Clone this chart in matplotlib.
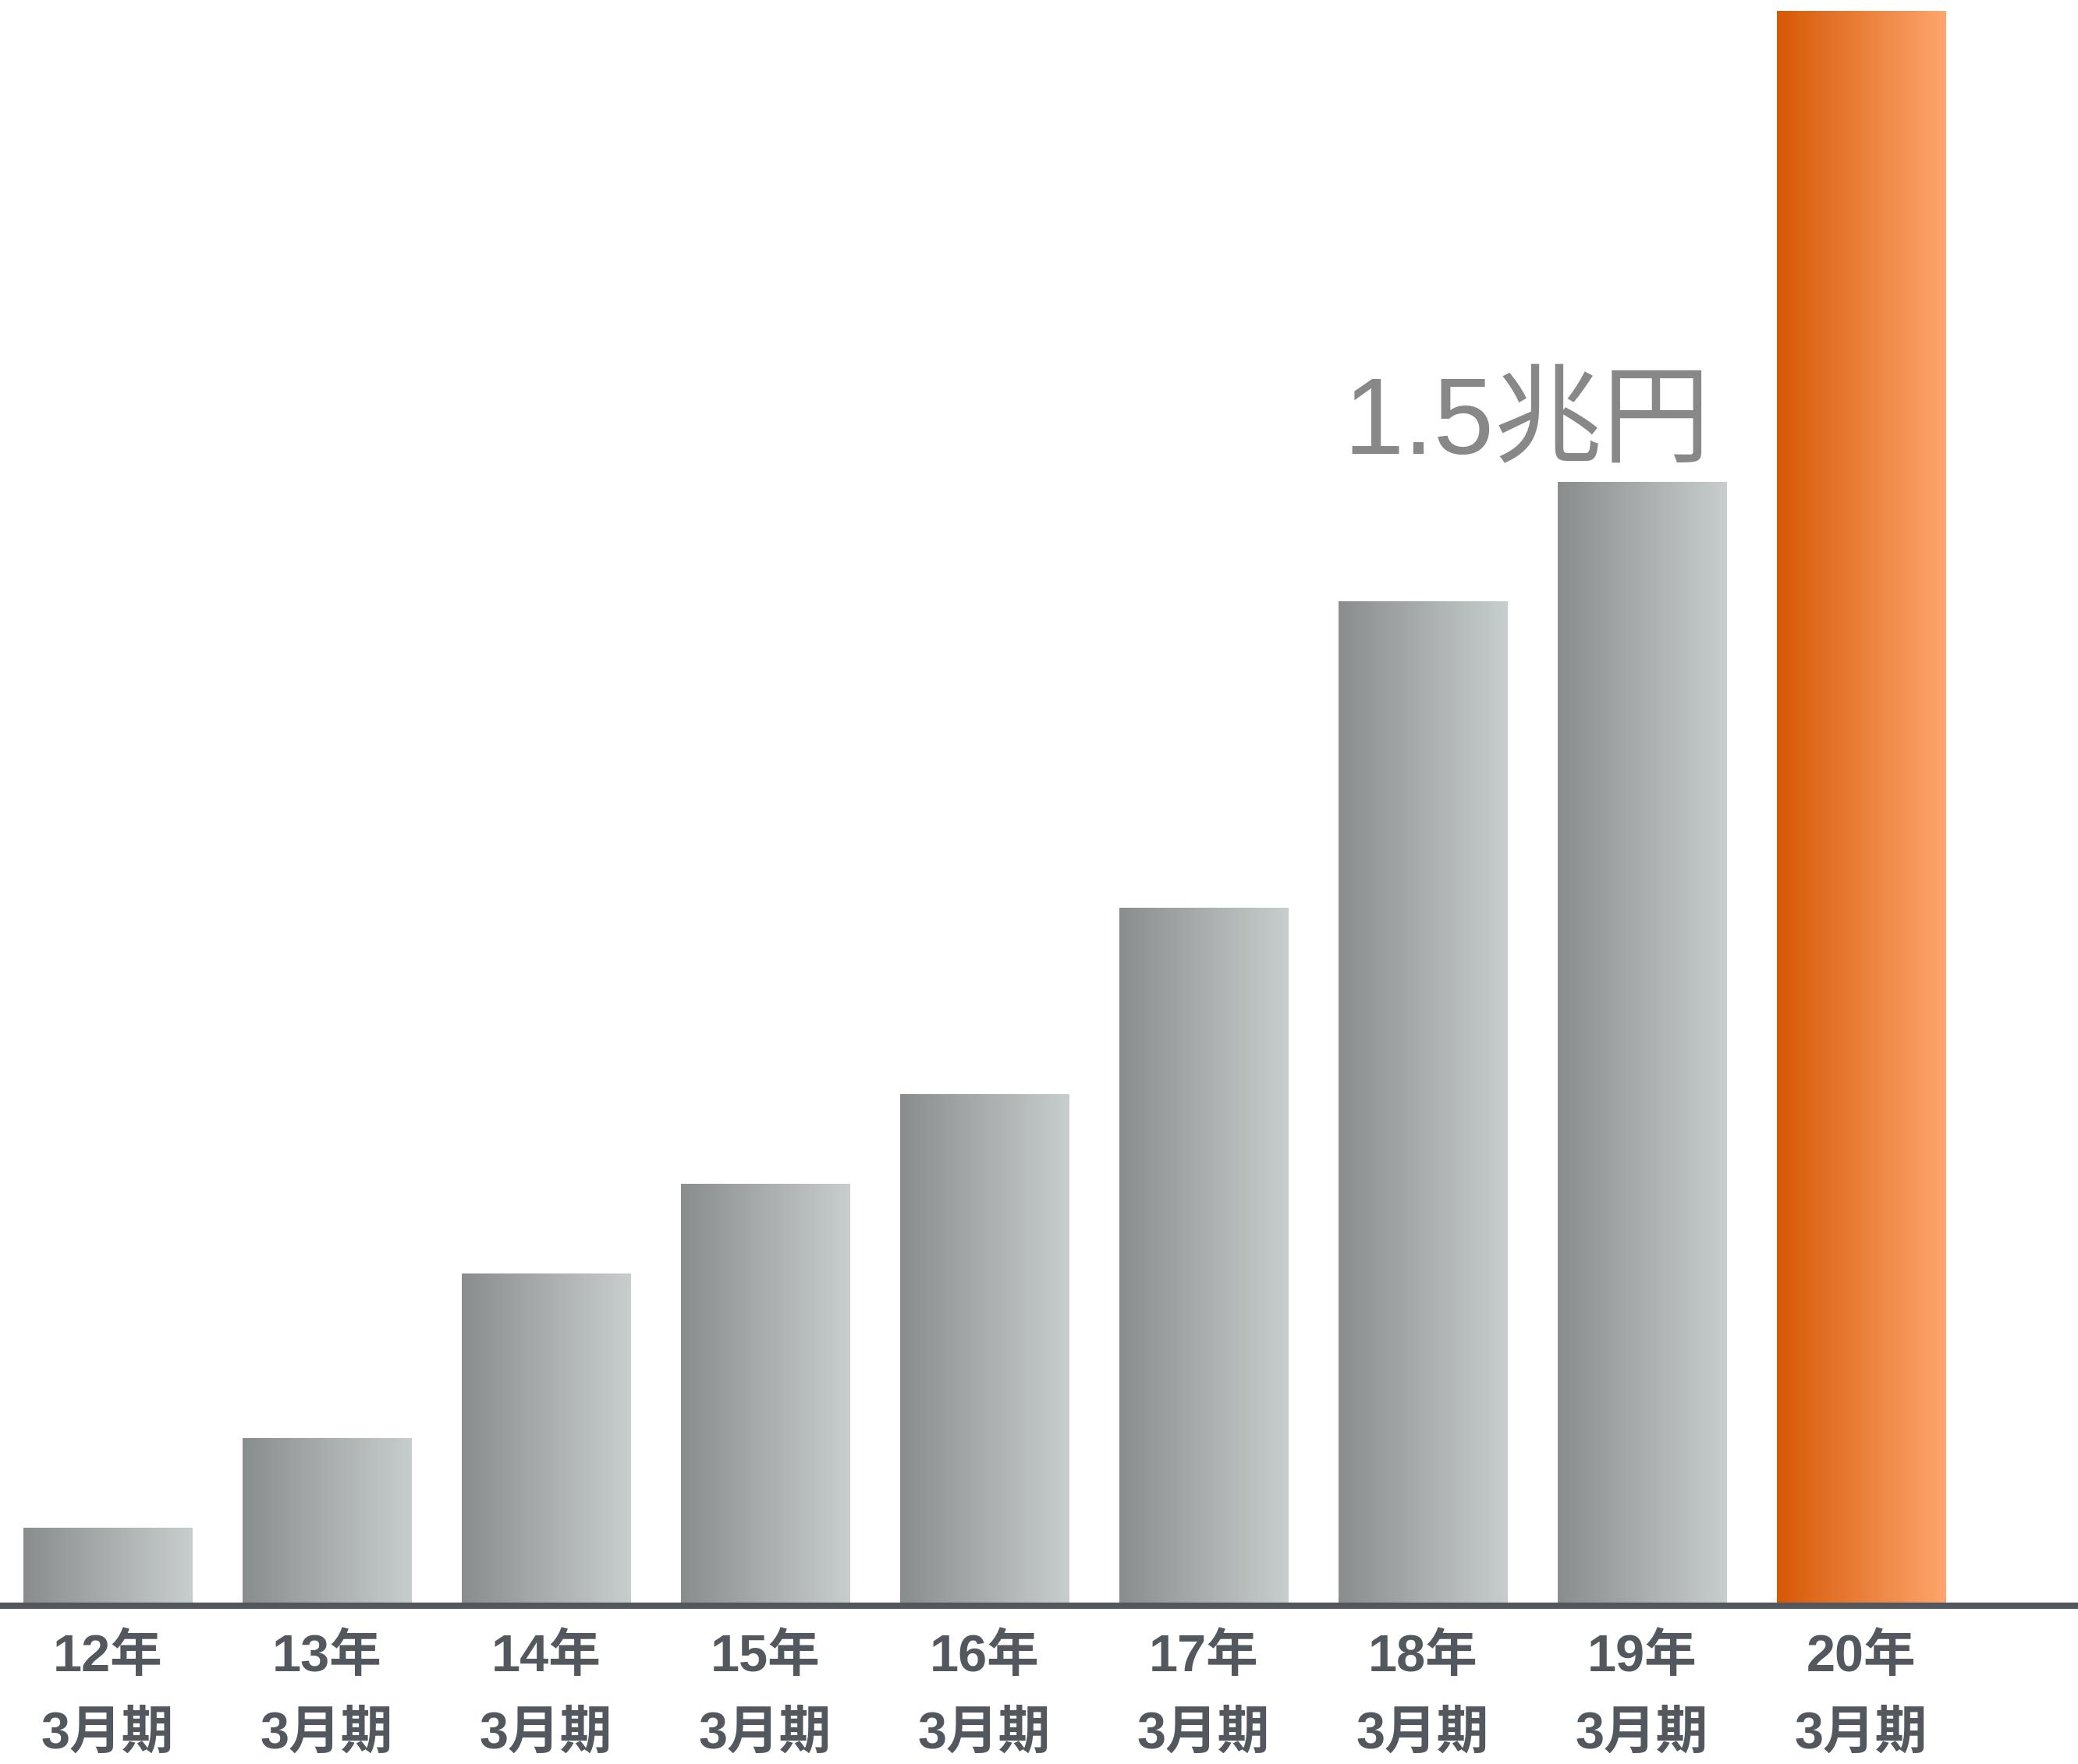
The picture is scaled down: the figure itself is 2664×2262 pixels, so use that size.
import numpy as np
import matplotlib
matplotlib.use("Agg")
import matplotlib.pyplot as plt
from matplotlib.colors import LinearSegmentedColormap
from matplotlib.lines import Line2D

plt.rcParams['font.family'] = ['Noto Sans CJK JP', 'DejaVu Sans']

# data (trillion yen)
years = ["12年", "13年", "14年", "15年", "16年", "17年", "18年", "19年", "20年"]
period = "3月期"
values = [0.10, 0.22, 0.44, 0.56, 0.68, 0.93, 1.34, 1.50, 2.13]
highlight_index = 8
annot_text = "1.5兆円"
annot_value = 1.50

W, H = 2664, 2262
fig = plt.figure(figsize=(W / 100, H / 100), dpi=100)
base_px = 2055
ax = fig.add_axes([0, (H - base_px) / H, 1, base_px / H])
ax.set_axis_off()

x = np.arange(len(values))
bars = ax.bar(x, values, width=0.772, facecolor='none', edgecolor='none')

grey = LinearSegmentedColormap.from_list("g", ["#8a8d8e", "#c8cecd"])
orange = LinearSegmentedColormap.from_list("o", ["#d75807", "#fea66d"])
grad = np.linspace(0, 1, 256).reshape(1, -1)
for i, b in enumerate(bars):
    bx, by, bw, bh = b.get_x(), b.get_y(), b.get_width(), b.get_height()
    cmap = orange if i == highlight_index else grey
    im = ax.imshow(grad, cmap=cmap, aspect='auto', extent=(bx, bx + bw, by, by + bh),
                   interpolation='bilinear', zorder=2)
    im.set_clip_path(b)

ax.set_xlim(-0.491, 8.989)
ax.set_ylim(0, 2.1446)

# baseline
fig.add_artist(Line2D([0, 1], [(H - 2059) / H] * 2, color="#53585e", lw=5.8,
                      transform=fig.transFigure, solid_capstyle='butt'))

label_family = ['Liberation Sans', 'Noto Sans CJK JP']
# category labels
for xi, yr in zip(x, years):
    ax.annotate(yr, xy=(xi, 0), xycoords='data', xytext=(0, -51), textcoords='offset points',
                ha='center', va='center', fontsize=48, color="#53585e", fontweight='bold',
                family=label_family, annotation_clip=False)
    ax.annotate(period, xy=(xi, 0), xycoords='data', xytext=(0, -122), textcoords='offset points',
                ha='center', va='center', fontsize=48, color="#53585e", fontweight='bold',
                family=label_family, annotation_clip=False)

ax.annotate(annot_text, xy=(6.475, annot_value), xycoords='data', xytext=(0, 26),
            textcoords='offset points', ha='center', va='baseline', fontsize=100,
            color="#888888", family=label_family)

fig.savefig("out.png", dpi=100, facecolor='white')
